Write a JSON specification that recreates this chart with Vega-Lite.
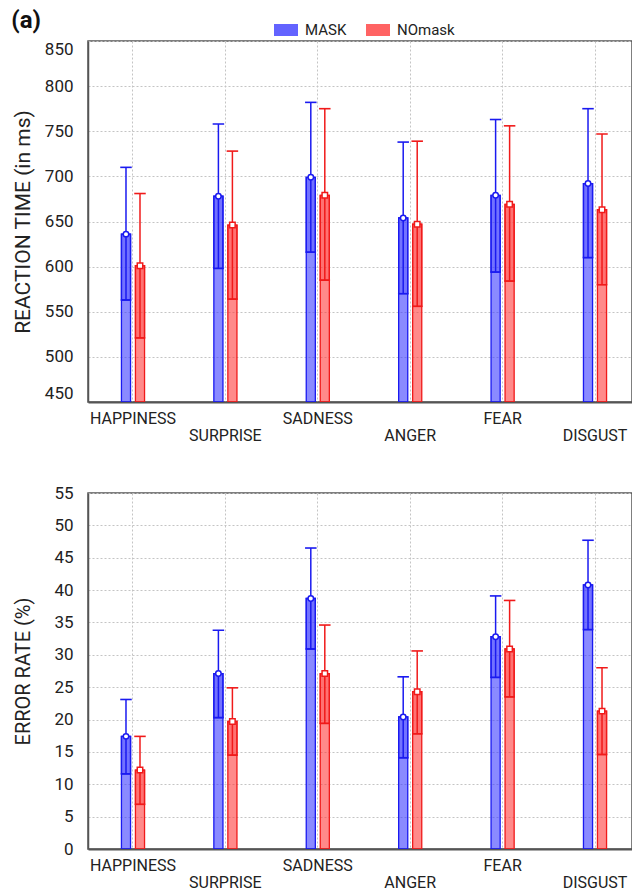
{
  "$schema": "https://vega.github.io/schema/vega-lite/v6.json",
  "background": "white",
  "padding": {"left": 11, "top": 9, "right": 0, "bottom": 0},
  "title": {"text": "(a)", "anchor": "start", "frame": "bounds", "font": "Roboto", "fontSize": 24, "fontWeight": "bold", "color": "#111", "offset": -15},
  "datasets": {
    "d": [
      {"emotion": "HAPPINESS", "group": "MASK", "rt": 636, "rt_lo": 563, "rt_hi": 710, "er": 17.4, "er_lo": 11.6, "er_hi": 23.1},
      {"emotion": "HAPPINESS", "group": "NOmask", "rt": 601, "rt_lo": 521, "rt_hi": 681, "er": 12.2, "er_lo": 6.9, "er_hi": 17.4},
      {"emotion": "SURPRISE", "group": "MASK", "rt": 678, "rt_lo": 598, "rt_hi": 758, "er": 27.1, "er_lo": 20.3, "er_hi": 33.8},
      {"emotion": "SURPRISE", "group": "NOmask", "rt": 646, "rt_lo": 564, "rt_hi": 728, "er": 19.7, "er_lo": 14.5, "er_hi": 24.9},
      {"emotion": "SADNESS", "group": "MASK", "rt": 699, "rt_lo": 616, "rt_hi": 782, "er": 38.7, "er_lo": 30.9, "er_hi": 46.5},
      {"emotion": "SADNESS", "group": "NOmask", "rt": 679, "rt_lo": 585, "rt_hi": 775, "er": 27.1, "er_lo": 19.4, "er_hi": 34.6},
      {"emotion": "ANGER", "group": "MASK", "rt": 654, "rt_lo": 570, "rt_hi": 738, "er": 20.4, "er_lo": 14.1, "er_hi": 26.6},
      {"emotion": "ANGER", "group": "NOmask", "rt": 647, "rt_lo": 556, "rt_hi": 739, "er": 24.3, "er_lo": 17.8, "er_hi": 30.6},
      {"emotion": "FEAR", "group": "MASK", "rt": 679, "rt_lo": 594, "rt_hi": 763, "er": 32.8, "er_lo": 26.5, "er_hi": 39.1},
      {"emotion": "FEAR", "group": "NOmask", "rt": 669, "rt_lo": 584, "rt_hi": 756, "er": 30.9, "er_lo": 23.5, "er_hi": 38.4},
      {"emotion": "DISGUST", "group": "MASK", "rt": 692, "rt_lo": 610, "rt_hi": 775, "er": 40.8, "er_lo": 33.9, "er_hi": 47.7},
      {"emotion": "DISGUST", "group": "NOmask", "rt": 663, "rt_lo": 580, "rt_hi": 747, "er": 21.3, "er_lo": 14.6, "er_hi": 28.0}
    ]
  },
  "spacing": 39,
  "resolve": {"scale": {"y": "independent", "fill": "shared", "stroke": "shared", "x": "shared", "xOffset": "shared"}},
  "vconcat": [
    {
      "width": 544,
      "height": 361,
      "data": {"name": "d"},
      "encoding": {
        "x": {"field": "emotion", "type": "nominal", "sort": ["HAPPINESS", "SURPRISE", "SADNESS", "ANGER", "FEAR", "DISGUST"],
              "scale": {"paddingInner": 0.75, "paddingOuter": 0.3186, "align": 0.568},
              "axis": {"title": null, "labelAngle": 0, "ticks": false, "grid": true, "bandPosition": 0.5, "labelPadding": 8, "labelFontSize": 16, "labelLineHeight": 17, "domainWidth": 2,
                       "labelExpr": "indexof(['SURPRISE','ANGER','DISGUST'], datum.label) >= 0 ? ['', datum.label] : datum.label"}},
        "xOffset": {"field": "group", "type": "nominal", "scale": {"domain": ["MASK", "NOmask"], "paddingInner": 0.35}},
        "stroke": {"field": "group", "type": "nominal", "scale": {"domain": ["MASK", "NOmask"], "range": ["#1a1af0", "#f01a1a"]}, "legend": null}
      },
      "layer": [
        {"mark": {"type": "bar", "fillOpacity": 0.6, "strokeWidth": 1.3, "clip": true},
         "encoding": {
           "y": {"field": "rt", "type": "quantitative", "scale": {"domain": [450, 850], "nice": false, "zero": false},
                 "axis": {"title": "REACTION TIME (in ms)", "values": [450, 500, 550, 600, 650, 700, 750, 800, 850], "labelFlush": true, "labelOverlap": false}},
           "y2": {"datum": 450},
           "fill": {"field": "group", "type": "nominal", "scale": {"domain": ["MASK", "NOmask"], "range": ["#3c3cff", "#ff3c3c"]},
                    "legend": {"orient": "none", "legendX": 186, "legendY": -23, "direction": "horizontal", "title": null, "symbolType": "M-1,-0.5H1V0.5H-1Z"}}
         }},
        {"mark": {"type": "bar", "fillOpacity": 0.3, "strokeWidth": 1.3, "clip": true},
         "encoding": {"y": {"field": "rt", "type": "quantitative", "axis": {"title": "REACTION TIME (in ms)", "values": [450, 500, 550, 600, 650, 700, 750, 800, 850], "labelFlush": true, "labelOverlap": false}}, "y2": {"field": "rt_lo"},
                      "fill": {"field": "group", "type": "nominal", "legend": {"orient": "none", "legendX": 186, "legendY": -23, "direction": "horizontal", "title": null, "symbolType": "M-1,-0.5H1V0.5H-1Z"}}}},
        {"mark": {"type": "rule", "strokeWidth": 1.5},
         "encoding": {"y": {"field": "rt_lo", "type": "quantitative", "axis": {"title": "REACTION TIME (in ms)", "values": [450, 500, 550, 600, 650, 700, 750, 800, 850], "labelFlush": true, "labelOverlap": false}}, "y2": {"field": "rt_hi"}}},
        {"mark": {"type": "tick", "orient": "horizontal", "filled": false, "size": 10, "thickness": 0.1, "strokeWidth": 1.5, "opacity": 1},
         "encoding": {"y": {"field": "rt_hi", "type": "quantitative", "axis": {"title": "REACTION TIME (in ms)", "values": [450, 500, 550, 600, 650, 700, 750, 800, 850], "labelFlush": true, "labelOverlap": false}}}},
        {"mark": {"type": "tick", "orient": "horizontal", "filled": false, "size": 9, "thickness": 0.1, "strokeWidth": 1.5, "opacity": 1},
         "encoding": {"y": {"field": "rt_lo", "type": "quantitative", "axis": {"title": "REACTION TIME (in ms)", "values": [450, 500, 550, 600, 650, 700, 750, 800, 850], "labelFlush": true, "labelOverlap": false}}}},
        {"transform": [{"filter": "datum.group === 'MASK'"}],
         "mark": {"type": "point", "shape": "circle", "filled": true, "fill": "white", "size": 30, "strokeWidth": 1.5, "opacity": 1},
         "encoding": {"y": {"field": "rt", "type": "quantitative", "axis": {"title": "REACTION TIME (in ms)", "values": [450, 500, 550, 600, 650, 700, 750, 800, 850], "labelFlush": true, "labelOverlap": false}}}},
        {"transform": [{"filter": "datum.group === 'NOmask'"}],
         "mark": {"type": "point", "shape": "square", "filled": true, "fill": "white", "size": 30, "strokeWidth": 1.5, "opacity": 1},
         "encoding": {"y": {"field": "rt", "type": "quantitative", "axis": {"title": "REACTION TIME (in ms)", "values": [450, 500, 550, 600, 650, 700, 750, 800, 850], "labelFlush": true, "labelOverlap": false}}}}
      ]
    },
    {
      "width": 544,
      "height": 356,
      "data": {"name": "d"},
      "encoding": {
        "x": {"field": "emotion", "type": "nominal", "sort": ["HAPPINESS", "SURPRISE", "SADNESS", "ANGER", "FEAR", "DISGUST"],
              "scale": {"paddingInner": 0.75, "paddingOuter": 0.3186, "align": 0.568},
              "axis": {"title": null, "labelAngle": 0, "ticks": false, "grid": true, "bandPosition": 0.5, "labelPadding": 8, "labelFontSize": 16, "labelLineHeight": 17, "domainWidth": 2,
                       "labelExpr": "indexof(['SURPRISE','ANGER','DISGUST'], datum.label) >= 0 ? ['', datum.label] : datum.label"}},
        "xOffset": {"field": "group", "type": "nominal", "scale": {"domain": ["MASK", "NOmask"], "paddingInner": 0.35}},
        "stroke": {"field": "group", "type": "nominal", "legend": null}
      },
      "layer": [
        {"mark": {"type": "bar", "fillOpacity": 0.6, "strokeWidth": 1.3, "clip": true},
         "encoding": {
           "y": {"field": "er", "type": "quantitative", "scale": {"domain": [0, 55], "nice": false},
                 "axis": {"title": "ERROR RATE (%)", "titleFontSize": 20, "labelOverlap": false, "values": [0, 5, 10, 15, 20, 25, 30, 35, 40, 45, 50, 55]}},
           "y2": {"datum": 0},
           "fill": {"field": "group", "type": "nominal", "legend": {"orient": "none", "legendX": 186, "legendY": -23, "direction": "horizontal", "title": null, "symbolType": "M-1,-0.5H1V0.5H-1Z"}}
         }},
        {"mark": {"type": "bar", "fillOpacity": 0.3, "strokeWidth": 1.3, "clip": true},
         "encoding": {"y": {"field": "er", "type": "quantitative", "axis": {"title": "ERROR RATE (%)", "titleFontSize": 20, "labelOverlap": false, "values": [0, 5, 10, 15, 20, 25, 30, 35, 40, 45, 50, 55]}}, "y2": {"field": "er_lo"},
                      "fill": {"field": "group", "type": "nominal", "legend": {"orient": "none", "legendX": 186, "legendY": -23, "direction": "horizontal", "title": null, "symbolType": "M-1,-0.5H1V0.5H-1Z"}}}},
        {"mark": {"type": "rule", "strokeWidth": 1.5},
         "encoding": {"y": {"field": "er_lo", "type": "quantitative", "axis": {"title": "ERROR RATE (%)", "titleFontSize": 20, "labelOverlap": false, "values": [0, 5, 10, 15, 20, 25, 30, 35, 40, 45, 50, 55]}}, "y2": {"field": "er_hi"}}},
        {"mark": {"type": "tick", "orient": "horizontal", "filled": false, "size": 10, "thickness": 0.1, "strokeWidth": 1.5, "opacity": 1},
         "encoding": {"y": {"field": "er_hi", "type": "quantitative", "axis": {"title": "ERROR RATE (%)", "titleFontSize": 20, "labelOverlap": false, "values": [0, 5, 10, 15, 20, 25, 30, 35, 40, 45, 50, 55]}}}},
        {"mark": {"type": "tick", "orient": "horizontal", "filled": false, "size": 9, "thickness": 0.1, "strokeWidth": 1.5, "opacity": 1},
         "encoding": {"y": {"field": "er_lo", "type": "quantitative", "axis": {"title": "ERROR RATE (%)", "titleFontSize": 20, "labelOverlap": false, "values": [0, 5, 10, 15, 20, 25, 30, 35, 40, 45, 50, 55]}}}},
        {"transform": [{"filter": "datum.group === 'MASK'"}],
         "mark": {"type": "point", "shape": "circle", "filled": true, "fill": "white", "size": 30, "strokeWidth": 1.5, "opacity": 1},
         "encoding": {"y": {"field": "er", "type": "quantitative", "axis": {"title": "ERROR RATE (%)", "titleFontSize": 20, "labelOverlap": false, "values": [0, 5, 10, 15, 20, 25, 30, 35, 40, 45, 50, 55]}}}},
        {"transform": [{"filter": "datum.group === 'NOmask'"}],
         "mark": {"type": "point", "shape": "square", "filled": true, "fill": "white", "size": 30, "strokeWidth": 1.5, "opacity": 1},
         "encoding": {"y": {"field": "er", "type": "quantitative", "axis": {"title": "ERROR RATE (%)", "titleFontSize": 20, "labelOverlap": false, "values": [0, 5, 10, 15, 20, 25, 30, 35, 40, 45, 50, 55]}}}}
      ]
    }
  ],
  "config": {
    "view": {"stroke": "#555", "strokeWidth": 1.5},
    "axis": {"gridColor": "#c4c4c4", "gridDash": [2, 2], "gridWidth": 1, "labelColor": "#222", "titleColor": "#222", "labelFont": "Roboto", "titleFont": "Roboto", "domainColor": "#555"},
    "axisY": {"ticks": false, "labelPadding": 15, "labelFontSize": 17, "minExtent": 43, "maxExtent": 43, "titlePadding": 12, "titleFontSize": 21, "titleFontWeight": "normal", "grid": true, "domainWidth": 1.5, "labelOverlap": false},
    "legend": {"symbolSize": 576, "symbolStrokeWidth": 0, "symbolOpacity": 0.8, "labelFontSize": 15, "labelFont": "Roboto", "labelColor": "#222", "columnPadding": 19, "labelOffset": 7}
  }
}
